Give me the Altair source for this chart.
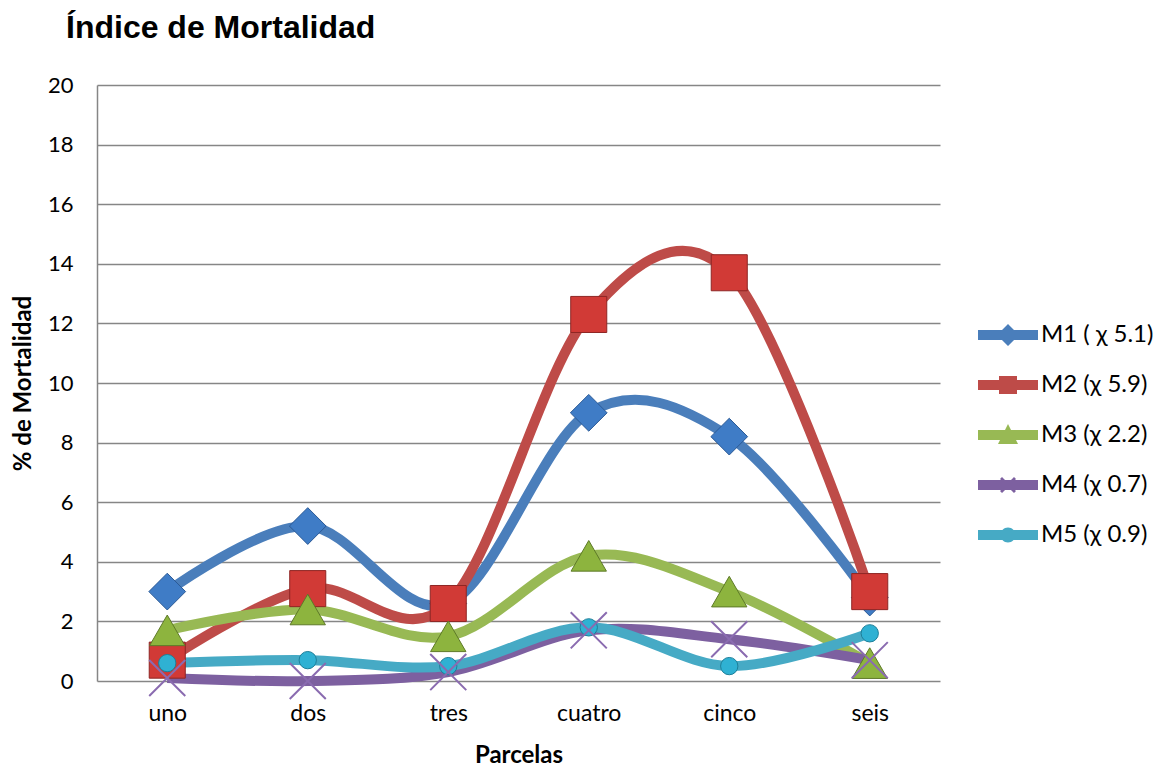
import altair as alt
import pandas as pd

# Mortality index per plot (parcela) for five treatments
parcelas = ["uno", "dos", "tres", "cuatro", "cinco", "seis"]
series = ["M1 ( \u03c7 5.1)", "M2 (\u03c7 5.9)", "M3 (\u03c7 2.2)", "M4 (\u03c7 0.7)", "M5 (\u03c7 0.9)"]
m1 = [3.0, 5.2, 2.6, 9.0, 8.2, 2.8]
m2 = [0.7, 3.1, 2.6, 12.3, 13.7, 3.0]
m3 = [1.7, 2.4, 1.5, 4.2, 3.0, 0.6]
m4 = [0.1, 0.0, 0.3, 1.7, 1.4, 0.7]
m5 = [0.6, 0.7, 0.5, 1.8, 0.5, 1.6]

line_colors = ["#4A7EBB", "#BE4B48", "#98B954", "#7D60A0", "#46AAC5"]

rows = []
for name, vals in zip(series, [m1, m2, m3, m4, m5]):
    for p, v in zip(parcelas, vals):
        rows.append({"serie": name, "parcela": p, "valor": v})
df = pd.DataFrame(rows)

# shared position encodings, declared once on the layer so only one pair of axes exists
x = alt.X("parcela:N", sort=parcelas, title="Parcelas",
          scale=alt.Scale(type="point", padding=0.5),
          axis=alt.Axis(labelAngle=0, domain=False, ticks=False, grid=False,
                        labelPadding=21, labelFont="Lato", labelFontSize=23,
                        labelColor="#000", titleFont="Lato", titleFontSize=24,
                        titleFontWeight="bold", titleColor="#000", titlePadding=18))
y = alt.Y("valor:Q", title="% de Mortalidad",
          scale=alt.Scale(domain=[0, 20], nice=False),
          axis=alt.Axis(values=list(range(0, 21, 2)), domain=True, domainColor="#868686",
                        domainWidth=1.5, ticks=False, labelPadding=24, labelFont="Lato",
                        labelFontSize=22, labelColor="#000", titleFont="Lato",
                        titleFontSize=24, titleFontWeight="bold", titleColor="#000",
                        titlePadding=12, gridColor="#868686", gridWidth=1.5))

# one smoothed line per treatment
lines = []
for name, col in zip(series, line_colors):
    lines.append(
        alt.Chart().transform_filter(alt.datum.serie == name).mark_line(
            interpolate="cardinal", strokeWidth=10, color=col,
        )
    )

# marker styles per series: shape, size, fill, stroke
marker_specs = [
    (series[0], "diamond", 1350, "#3F7CC6", "#2B5A96"),
    (series[1], "square", 1300, "#D13A36", "#8E2624"),
    (series[2], "triangle-up", 1250, "#8DB43E", "#5E7A28"),
    (series[4], "circle", 300, "#2FB1D3", "#1D7F99"),
]
markers = []
for name, shape, size, fill, stroke in marker_specs:
    markers.append(
        alt.Chart().transform_filter(alt.datum.serie == name).mark_point(
            shape=shape, size=size, filled=True, fill=fill, stroke=stroke,
            strokeWidth=1, opacity=1,
        )
    )
cross = alt.Chart().transform_filter(alt.datum.serie == series[3]).mark_point(
    shape="M-1,-1L1,1M-1,1L1,-1", size=1300, filled=False, stroke="#8A6BB0",
    strokeWidth=2, opacity=1,
)

# legend glyphs: a thick bar with the series marker on top
bar = "M-3,-0.5L3,-0.5L3,0.5L-3,0.5Z"
legend_paths = [
    bar + "M0,-1.1L1.1,0L0,1.1L-1.1,0Z",
    bar + "M-0.9,-0.9L0.9,-0.9L0.9,0.9L-0.9,0.9Z",
    bar + "M0,-1.1L1,0.9L-1,0.9Z",
    bar + "M-0.8,-0.6L-0.6,-0.8L0.8,0.6L0.6,0.8ZM0.6,-0.8L0.8,-0.6L-0.6,0.8L-0.8,0.6Z",
    bar + "M-0.75,0A0.75,0.75 0 1,1 0.75,0A0.75,0.75 0 1,1 -0.75,0Z",
]
legend_spec = dict(
    title=None, orient="none", legendX=899, legendY=238, padding=0,
    symbolSize=400, symbolOpacity=1, symbolStrokeWidth=0,
    labelFont="Lato", labelFontSize=24, labelColor="#000", labelOffset=21,
    rowPadding=26, labelLimit=300,
)
legend_layer = alt.Chart().mark_point(filled=True, opacity=0, size=10).encode(
    color=alt.Color("serie:N", scale=alt.Scale(domain=series, range=line_colors),
                    legend=alt.Legend(**legend_spec)),
    shape=alt.Shape("serie:N", scale=alt.Scale(domain=series, range=legend_paths),
                    legend=alt.Legend(**legend_spec)),
)

chart = alt.layer(*lines, *markers, cross, legend_layer, data=df).encode(
    x=x, y=y,
).properties(
    width=843, height=596,
    background="#ffffff",
    view=alt.ViewBackground(stroke="transparent", strokeWidth=0),
    title=alt.Title("\u00cdndice de Mortalidad", anchor="start", frame="group",
                    font="Liberation Sans", fontSize=32, fontWeight="bold",
                    color="#000", dx=-31, offset=29),
    autosize=alt.AutoSizeParams(type="none"),
    padding={"left": 97, "top": 85, "right": 220, "bottom": 87},
).configure_view(stroke="transparent", strokeWidth=0)

chart.save("out.html", embed_options={"renderer": "svg", "actions": False})
